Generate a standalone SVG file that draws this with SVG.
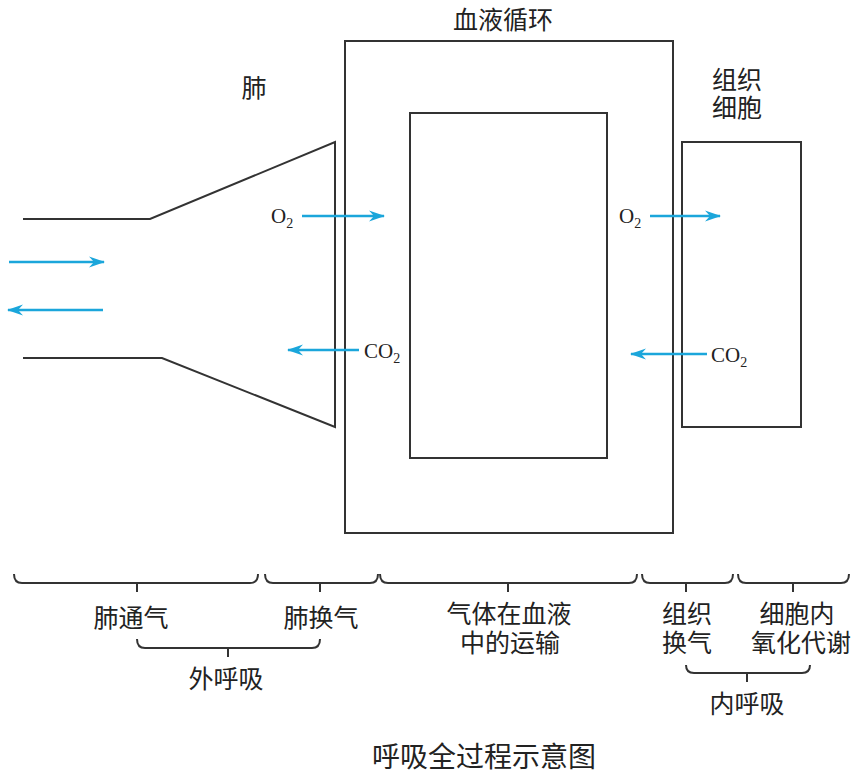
<svg xmlns="http://www.w3.org/2000/svg" width="865" height="780" viewBox="0 0 865 780">
<style>
.ln{fill:none;stroke:#333;stroke-width:2}
.br{fill:none;stroke:#333;stroke-width:2}
.ar{fill:none;stroke:#1ba6db;stroke-width:2.5}
.cn{font-family:"Noto Sans CJK SC",sans-serif;font-size:25px;fill:#222;text-anchor:middle}
.cp{font-family:"Noto Sans CJK SC",sans-serif;font-size:28px;fill:#222;text-anchor:middle}
.ch{font-family:"Liberation Serif",serif;font-size:21px;fill:#222}
.sb{font-size:14px}
</style>
<defs>
<marker id="ah" markerWidth="17" markerHeight="12" refX="15" refY="6" orient="auto" markerUnits="userSpaceOnUse">
<path d="M0,0.5 L16,6 L0,11.5 L5,6 Z" fill="#1ba6db"/>
</marker>
</defs>
<rect width="865" height="780" fill="#fff"/>
<g id="lung">
<path class="ln" d="M23,219 H150 L335,142 V427 L162,358 H23"/>
<text class="cn" x="254" y="97">肺</text>
</g>
<g id="blood">
<rect class="ln" x="345" y="41" width="328" height="492"/>
<rect class="ln" x="410" y="113" width="197" height="345"/>
<text class="cn" x="503" y="29">血液循环</text>
</g>
<g id="tissue">
<rect class="ln" x="682" y="142" width="119" height="285"/>
<text class="cn" x="737" y="89">组织</text>
<text class="cn" x="737" y="117">细胞</text>
</g>
<g id="gas-labels">
<text class="ch" x="271" y="223">O<tspan class="sb" dy="5">2</tspan></text>
<text class="ch" x="364" y="358">CO<tspan class="sb" dy="5">2</tspan></text>
<text class="ch" x="619" y="223">O<tspan class="sb" dy="5">2</tspan></text>
<text class="ch" x="711" y="362">CO<tspan class="sb" dy="5">2</tspan></text>
</g>
<g id="connectors">
<line class="ar" x1="9" y1="262" x2="104" y2="262" marker-end="url(#ah)"/>
<line class="ar" x1="103" y1="310" x2="8" y2="310" marker-end="url(#ah)"/>
<line class="ar" x1="302" y1="216" x2="384" y2="216" marker-end="url(#ah)"/>
<line class="ar" x1="359" y1="350" x2="288" y2="350" marker-end="url(#ah)"/>
<line class="ar" x1="650" y1="216" x2="720" y2="216" marker-end="url(#ah)"/>
<line class="ar" x1="707" y1="354" x2="631" y2="354" marker-end="url(#ah)"/>
</g>
<g id="braces">
<path class="br" d="M14,574 Q14,583 22,583 H250 Q258,583 258,574 M137,583 V592"/>
<path class="br" d="M265,574 Q265,583 273,583 H370 Q378,583 378,574 M320,583 V592"/>
<path class="br" d="M380,574 Q380,583 388,583 H629 Q637,583 637,574 M508,583 V592"/>
<path class="br" d="M642,574 Q642,583 650,583 H725 Q733,583 733,574 M686,583 V592"/>
<path class="br" d="M738,574 Q738,583 746,583 H841 Q849,583 849,574 M793,583 V592"/>
<path class="br" d="M137,639 Q137,648 145,648 H312 Q320,648 320,639 M228,648 V657"/>
<path class="br" d="M686,665 Q686,673 694,673 H802 Q810,673 810,665 M747,673 V682"/>
</g>
<g id="stage-labels">
<text class="cn" x="131" y="627">肺通气</text>
<text class="cn" x="321" y="627">肺换气</text>
<text class="cn" x="509" y="623">气体在血液</text>
<text class="cn" x="510" y="652">中的运输</text>
<text class="cn" x="687" y="623">组织</text>
<text class="cn" x="687" y="652">换气</text>
<text class="cn" x="797" y="623">细胞内</text>
<text class="cn" x="801" y="652">氧化代谢</text>
<text class="cn" x="226" y="688">外呼吸</text>
<text class="cn" x="747" y="713">内呼吸</text>
</g>
<g id="caption">
<text class="cp" x="484" y="767">呼吸全过程示意图</text>
</g>
</svg>
